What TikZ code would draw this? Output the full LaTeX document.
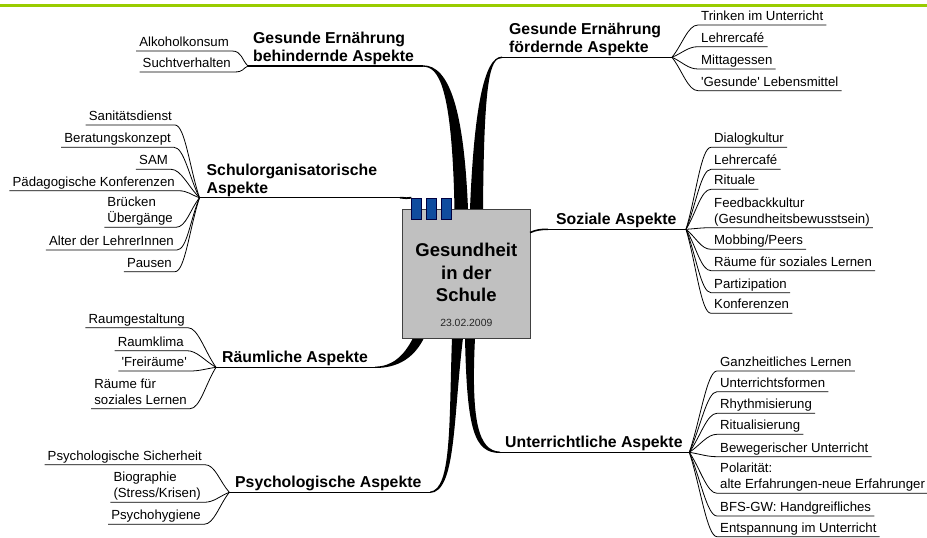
\documentclass[tikz,border=0pt]{standalone}
\usepackage{fontspec}
\setmainfont{Liberation Sans}
\usetikzlibrary{calc}
\definecolor{barGreen}{HTML}{99CC00}
\definecolor{tabBlue}{HTML}{0F4C9E}
\definecolor{boxGray}{HTML}{C0C0C0}
\def\twigoff{10}
\newcommand{\twigR}[2]{\draw[twig] (#1) .. controls ($(#1)!0.4!(#2.south west)$) and ($(#2.south west)+(-\twigoff,0)$) .. (#2.south west) -- (#2.south east);}
\newcommand{\twigL}[2]{\draw[twig] (#1) .. controls ($(#1)!0.4!(#2.south east)$) and ($(#2.south east)+(\twigoff,0)$) .. (#2.south east) -- (#2.south west);}
\tikzset{
    item/.style={font=\fontsize{13.2}{16}\selectfont, align=left, inner xsep=3pt, inner ysep=1.3pt, text depth=3pt},
    head/.style={font=\bfseries\fontsize{15.8}{18}\selectfont, align=left, inner xsep=3pt, inner ysep=1.3pt, text depth=3pt},
    twig/.style={line width=0.8pt},
    bar/.style={line width=1.3pt},
    tab/.style={draw=blue!25!black, fill=tabBlue, line width=0.6pt, minimum width=10pt, minimum height=21pt, inner sep=0},
}
\begin{document}
\begin{tikzpicture}[x=1pt, y=-1pt]

        %
        \fill[white] (0,0) rectangle (927,538);
        \useasboundingbox (0,0) rectangle (927,538);
        \draw[barGreen, line width=3pt] (0,5) -- (927,5);

        %
        \fill (423,66.7) .. controls (438,66.7) and (452,84) .. (454.5,209) -- (468,209) .. controls (464,112) and (450,65.3) .. (423,65.3) -- cycle;
        \fill (502,58) .. controls (490,58) and (484,78) .. (483,209) -- (470,209) .. controls (474,110) and (484,56.6) .. (502,56.6) -- cycle;
        \fill (375,366.6) .. controls (392,366.6) and (404,356) .. (413,338) -- (424,338) .. controls (414,358) and (398,368) .. (375,368) -- cycle;
        \fill (452,338) .. controls (449,420) and (452,490) .. (430,491.6) -- (430,493) .. controls (456,492) and (453,420) .. (463,338) -- cycle;
        \fill (465,338) .. controls (467,430) and (474,453) .. (500,453) -- (500,451.6) .. controls (478,451) and (471,420) .. (475,338) -- cycle;

        %
        \node[draw=black!75, fill=boxGray, line width=0.8pt, minimum width=127.3pt, minimum height=129pt, inner sep=0] (ctr) at (466.3,273.5) {};
        \node[font=\bfseries\fontsize{18.5}{22.5}\selectfont, align=center, inner sep=0] (title) at (466.3,272.8) {Gesundheit\\in der\\Schule};
        \node[font=\fontsize{10.4}{12}\selectfont, text=black!85, anchor=base, inner sep=0] (date) at (466.3,326.7) {23.02.2009};
        \node[tab] (tab1) at (416.7,208.5) {};
        \node[tab] (tab2) at (431,208.5) {};
        \node[tab] (tab3) at (446.3,208.5) {};

        %
        \coordinate (fBeh) at (248,66);
        \coordinate (tBeh) at (423,66);
        \draw[bar] (fBeh) -- (tBeh);
        \node[head, anchor=south west] (hBeh) at (250,66) {Gesunde Ernährung\\behindernde Aspekte};
        \node[item, anchor=south east] (bAlk) at (232,51) {Alkoholkonsum};
        \node[item, anchor=south east] (bSucht) at (234,72) {Suchtverhalten};
        \twigL{fBeh}{bAlk}
        \twigL{fBeh}{bSucht}

        %
        \coordinate (tFoe) at (502,57.3);
        \coordinate (fFoe) at (672,57.3);
        \draw[bar] (tFoe) -- (fFoe);
        \node[head, anchor=south west] (hFoe) at (506,57.3) {Gesunde Ernährung\\fördernde Aspekte};
        \node[item, anchor=south west] (fTri) at (698,25) {Trinken im Unterricht};
        \node[item, anchor=south west] (fLeh) at (698,46.7) {Lehrercafé};
        \node[item, anchor=south west] (fMit) at (698,69) {Mittagessen};
        \node[item, anchor=south west] (fGes) at (698,90.7) {\textquotesingle Gesunde\textquotesingle{} Lebensmittel};
        \twigR{fFoe}{fTri}
        \twigR{fFoe}{fLeh}
        \twigR{fFoe}{fMit}
        \twigR{fFoe}{fGes}

        %
        \coordinate (fSch) at (199.5,197.7);
        \coordinate (tSch) at (400,197.7);
        \draw[bar] (fSch) -- (tSch);
        \draw[line width=1.8pt] (tSch) .. controls (405,197.7) and (408,199) .. (tab1.north west);
        \node[head, anchor=south west] (hSch) at (203.5,197.7) {Schulorganisatorische\\Aspekte};
        \node[item, anchor=south east] (sSan) at (175,125) {Sanitätsdienst};
        \node[item, anchor=south east] (sBer) at (174,147.3) {Beratungskonzept};
        \node[item, anchor=south east] (sSam) at (171,169.3) {SAM};
        \node[item, anchor=south east] (sPaed) at (178,190.7) {Pädagogische Konferenzen};
        \node[item, anchor=south east] (sBru) at (176,227.3) {Brücken\\Übergänge};
        \node[item, anchor=south east] (sAlt) at (177,250) {Alter der LehrerInnen};
        \node[item, anchor=south east] (sPau) at (175,271.7) {Pausen};
        \twigL{fSch}{sSan}
        \twigL{fSch}{sBer}
        \twigL{fSch}{sSam}
        \twigL{fSch}{sPaed}
        \twigL{fSch}{sBru}
        \twigL{fSch}{sAlt}
        \twigL{fSch}{sPau}

        %
        \coordinate (rSoz) at (530,232.6);
        \coordinate (tSoz) at (548,229.3);
        \coordinate (fSoz) at (686,229.3);
        \draw[line width=1.6pt] (rSoz) .. controls (536,230) and (540,229.3) .. (tSoz);
        \draw[bar] (tSoz) -- (fSoz);
        \node[head, anchor=south west] (hSoz) at (553,229.3) {Soziale Aspekte};
        \node[item, anchor=south west] (zDia) at (711,147.3) {Dialogkultur};
        \node[item, anchor=south west] (zLeh) at (711,169.3) {Lehrercafé};
        \node[item, anchor=south west] (zRit) at (711,189.3) {Rituale};
        \node[item, anchor=south west] (zFee) at (711,227.7) {Feedbackkultur\\(Gesundheitsbewusstsein)};
        \node[item, anchor=south west] (zMob) at (711,249.3) {Mobbing/Peers};
        \node[item, anchor=south west] (zRae) at (711,270.7) {Räume für soziales Lernen};
        \node[item, anchor=south west] (zPar) at (711,292.7) {Partizipation};
        \node[item, anchor=south west] (zKon) at (711,313.3) {Konferenzen};
        \twigR{fSoz}{zDia}
        \twigR{fSoz}{zLeh}
        \twigR{fSoz}{zRit}
        \twigR{fSoz}{zFee}
        \twigR{fSoz}{zMob}
        \twigR{fSoz}{zRae}
        \twigR{fSoz}{zPar}
        \twigR{fSoz}{zKon}

        %
        \coordinate (fRau) at (216,367.3);
        \coordinate (tRau) at (375,367.3);
        \draw[bar] (fRau) -- (tRau);
        \node[head, anchor=south west] (hRau) at (219,367.3) {Räumliche Aspekte};
        \node[item, anchor=south east] (rGes) at (188,327.7) {Raumgestaltung};
        \node[item, anchor=south east] (rKli) at (187,350.7) {Raumklima};
        \node[item, anchor=south east] (rFrei) at (190,371) {\textquotesingle Freiräume\textquotesingle};
        \node[item, anchor=south east] (rSoz) at (190,408.7) {Räume für\\soziales Lernen};
        \twigL{fRau}{rGes}
        \twigL{fRau}{rKli}
        \twigL{fRau}{rFrei}
        \twigL{fRau}{rSoz}

        %
        \coordinate (fPsy) at (229.3,492.3);
        \coordinate (tPsy) at (430,492.3);
        \draw[bar] (fPsy) -- (tPsy);
        \node[head, anchor=south west] (hPsy) at (232,492.3) {Psychologische Aspekte};
        \node[item, anchor=south east] (pSich) at (205,464.7) {Psychologische Sicherheit};
        \node[item, anchor=south east] (pBio) at (204,502.3) {Biographie\\(Stress/Krisen)};
        \node[item, anchor=south east] (pHyg) at (204,524.3) {Psychohygiene};
        \twigL{fPsy}{pSich}
        \twigL{fPsy}{pBio}
        \twigL{fPsy}{pHyg}

        %
        \coordinate (tUnt) at (500,452.3);
        \coordinate (fUnt) at (689.3,452.3);
        \draw[bar] (tUnt) -- (fUnt);
        \node[head, anchor=south west] (hUnt) at (502,452.3) {Unterrichtliche Aspekte};
        \node[item, anchor=south west] (uGan) at (717,371) {Ganzheitliches Lernen};
        \node[item, anchor=south west] (uFor) at (717,391.7) {Unterrichtsformen};
        \node[item, anchor=south west] (uRhy) at (717,413.3) {Rhythmisierung};
        \node[item, anchor=south west] (uRit) at (717,434.3) {Ritualisierung};
        \node[item, anchor=south west] (uBew) at (717,456.7) {Bewegerischer Unterricht};
        \node[item, anchor=south west] (uPol) at (717,493.3) {Polarität:\\alte Erfahrungen-neue Erfahrunger};
        \node[item, anchor=south west] (uBfs) at (717,516) {BFS-GW: Handgreifliches};
        \node[item, anchor=south west] (uEnt) at (717,536.7) {Entspannung im Unterricht};
        \twigR{fUnt}{uGan}
        \twigR{fUnt}{uFor}
        \twigR{fUnt}{uRhy}
        \twigR{fUnt}{uRit}
        \twigR{fUnt}{uBew}
        \twigR{fUnt}{uPol}
        \twigR{fUnt}{uBfs}
        \twigR{fUnt}{uEnt}

    \end{tikzpicture}
\end{document}
